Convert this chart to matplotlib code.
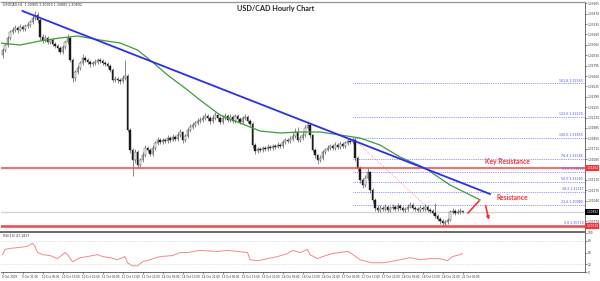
import matplotlib
matplotlib.use("Agg")
import matplotlib.pyplot as plt
import numpy as np

# ---- hourly USD/CAD bars (bar index 0 = 9 Oct 13:00) ----
first_open = 1.32933
closes = [
    1.32998, 1.33063, 1.33154, 1.33232, 1.33258, 1.33284, 1.33258, 1.33297, 1.33271, 1.33310,
    1.33323, 1.33362, 1.33414, 1.33453, 1.33388, 1.33167, 1.33128, 1.33154, 1.33102, 1.33128,
    1.33076, 1.33050, 1.33024, 1.32972, 1.33037, 1.33102, 1.33154, 1.32868, 1.32634, 1.32712,
    1.32764, 1.32829, 1.32894, 1.32868, 1.32842, 1.32816, 1.32829, 1.32842, 1.32868, 1.32855,
    1.32829, 1.32816, 1.32790, 1.32738, 1.32608, 1.32621, 1.32608, 1.32595, 1.32634, 1.32660,
    1.31958, 1.31698, 1.31568, 1.31672, 1.31503, 1.31568, 1.31633, 1.31724, 1.31698, 1.31646,
    1.31724, 1.31789, 1.31828, 1.31802, 1.31828, 1.31815, 1.31854, 1.31828, 1.31867, 1.31841,
    1.31893, 1.31932, 1.31828, 1.31880, 1.31958, 1.31997, 1.32023, 1.32049, 1.32075, 1.32088,
    1.32114, 1.32140, 1.32114, 1.32075, 1.32114, 1.32153, 1.32114, 1.32062, 1.32114, 1.32140,
    1.32088, 1.32127, 1.32075, 1.32140, 1.32101, 1.32062, 1.32114, 1.32127, 1.32075, 1.32036,
    1.31763, 1.31685, 1.31711, 1.31698, 1.31724, 1.31711, 1.31737, 1.31724, 1.31750, 1.31737,
    1.31763, 1.31750, 1.31802, 1.31828, 1.31815, 1.31841, 1.31880, 1.31932, 1.31828, 1.31854,
    1.31893, 1.31984, 1.32023, 1.31893, 1.31698, 1.31633, 1.31568, 1.31594, 1.31672, 1.31698,
    1.31724, 1.31750, 1.31724, 1.31763, 1.31737, 1.31776, 1.31750, 1.31789, 1.31815, 1.31802,
    1.31828, 1.31594, 1.31464, 1.31308, 1.31243, 1.31334, 1.31412, 1.31178, 1.31048, 1.30944,
    1.30918, 1.30944, 1.30931, 1.30957, 1.30918, 1.30944, 1.30957, 1.30931, 1.30970, 1.30944,
    1.30918, 1.30931, 1.30957, 1.30983, 1.30944, 1.30931, 1.30918, 1.30944, 1.30931, 1.30957,
    1.30918, 1.30905, 1.30879, 1.30840, 1.30801, 1.30775, 1.30749, 1.30762, 1.30788, 1.30892,
    1.30905, 1.30879, 1.30892, 1.30905, 1.30892,
]
highs = [
    1.33030, 1.33090, 1.33180, 1.33260, 1.33300, 1.33320, 1.33310, 1.33330, 1.33320, 1.33340,
    1.33360, 1.33390, 1.33460, 1.33510, 1.33490, 1.33410, 1.33200, 1.33190, 1.33180, 1.33160,
    1.33150, 1.33100, 1.33070, 1.33050, 1.33060, 1.33130, 1.33200, 1.33180, 1.32890, 1.32740,
    1.32800, 1.32860, 1.32940, 1.32920, 1.32900, 1.32870, 1.32860, 1.32880, 1.32900, 1.32890,
    1.32880, 1.32860, 1.32840, 1.32810, 1.32760, 1.32660, 1.32650, 1.32640, 1.32670, 1.32870,
    1.32680, 1.31980, 1.31720, 1.31710, 1.31700, 1.31600, 1.31670, 1.31760, 1.31750, 1.31730,
    1.31760, 1.31820, 1.31870, 1.31850, 1.31860, 1.31850, 1.31890, 1.31880, 1.31900, 1.31890,
    1.31930, 1.31970, 1.31950, 1.31910, 1.31990, 1.32030, 1.32060, 1.32080, 1.32110, 1.32130,
    1.32150, 1.32180, 1.32170, 1.32140, 1.32150, 1.32190, 1.32180, 1.32140, 1.32150, 1.32180,
    1.32160, 1.32160, 1.32150, 1.32170, 1.32160, 1.32130, 1.32140, 1.32160, 1.32150, 1.32100,
    1.32060, 1.31790, 1.31740, 1.31740, 1.31750, 1.31750, 1.31770, 1.31760, 1.31780, 1.31770,
    1.31800, 1.31790, 1.31830, 1.31860, 1.31850, 1.31880, 1.31920, 1.31980, 1.32000, 1.31890,
    1.31930, 1.32020, 1.32070, 1.32040, 1.31910, 1.31720, 1.31650, 1.31630, 1.31700, 1.31730,
    1.31760, 1.31780, 1.31770, 1.31800, 1.31790, 1.31810, 1.31800, 1.31820, 1.31850, 1.31850,
    1.31860, 1.31850, 1.31620, 1.31490, 1.31340, 1.31370, 1.31470, 1.31430, 1.31200, 1.31070,
    1.30980, 1.30980, 1.30970, 1.30990, 1.30980, 1.30970, 1.30990, 1.30980, 1.31010, 1.31000,
    1.30970, 1.30960, 1.30990, 1.31020, 1.31010, 1.30970, 1.30960, 1.30980, 1.30970, 1.30990,
    1.30980, 1.30950, 1.30930, 1.31010, 1.30870, 1.30830, 1.30800, 1.30790, 1.30820, 1.30920,
    1.30940, 1.30930, 1.30930, 1.30940, 1.30920,
]
lows = [
    1.32900, 1.32970, 1.33040, 1.33130, 1.33200, 1.33230, 1.33220, 1.33240, 1.33240, 1.33250,
    1.33290, 1.33300, 1.33340, 1.33390, 1.33350, 1.33130, 1.33090, 1.33100, 1.33070, 1.33080,
    1.33050, 1.33020, 1.32990, 1.32940, 1.32950, 1.33010, 1.33080, 1.32840, 1.32580, 1.32600,
    1.32680, 1.32740, 1.32800, 1.32840, 1.32810, 1.32780, 1.32790, 1.32800, 1.32820, 1.32830,
    1.32800, 1.32790, 1.32760, 1.32710, 1.32580, 1.32580, 1.32570, 1.32560, 1.32570, 1.32610,
    1.31930, 1.31660, 1.31360, 1.31530, 1.31470, 1.31480, 1.31540, 1.31610, 1.31670, 1.31620,
    1.31620, 1.31700, 1.31760, 1.31770, 1.31780, 1.31790, 1.31790, 1.31800, 1.31810, 1.31820,
    1.31820, 1.31870, 1.31790, 1.31800, 1.31860, 1.31930, 1.31970, 1.32000, 1.32020, 1.32050,
    1.32060, 1.32090, 1.32080, 1.32040, 1.32050, 1.32090, 1.32080, 1.32030, 1.32040, 1.32090,
    1.32060, 1.32060, 1.32050, 1.32050, 1.32070, 1.32030, 1.32040, 1.32090, 1.32050, 1.32010,
    1.31730, 1.31650, 1.31660, 1.31670, 1.31670, 1.31690, 1.31690, 1.31700, 1.31700, 1.31710,
    1.31720, 1.31730, 1.31730, 1.31780, 1.31790, 1.31790, 1.31820, 1.31860, 1.31800, 1.31800,
    1.31830, 1.31870, 1.31960, 1.31860, 1.31670, 1.31600, 1.31520, 1.31540, 1.31570, 1.31650,
    1.31680, 1.31700, 1.31700, 1.31700, 1.31710, 1.31710, 1.31720, 1.31730, 1.31760, 1.31780,
    1.31780, 1.31560, 1.31420, 1.31270, 1.31200, 1.31220, 1.31310, 1.31140, 1.31010, 1.30910,
    1.30890, 1.30890, 1.30900, 1.30900, 1.30890, 1.30890, 1.30920, 1.30900, 1.30910, 1.30920,
    1.30890, 1.30890, 1.30910, 1.30940, 1.30920, 1.30900, 1.30890, 1.30890, 1.30910, 1.30910,
    1.30890, 1.30880, 1.30850, 1.30810, 1.30770, 1.30740, 1.30710, 1.30710, 1.30740, 1.30770,
    1.30870, 1.30850, 1.30860, 1.30870, 1.30880,
]

# time-axis labels, one every 8 bars
time_labels = [
    "9 Oct 2019", "9 Oct 21:00", "10 Oct 05:00", "10 Oct 13:00", "10 Oct 21:00",
    "11 Oct 05:00", "11 Oct 13:00", "11 Oct 21:00", "14 Oct 05:00", "14 Oct 13:00",
    "14 Oct 21:00", "15 Oct 05:00", "15 Oct 13:00", "15 Oct 21:00", "16 Oct 05:00",
    "16 Oct 13:00", "16 Oct 21:00", "17 Oct 05:00", "17 Oct 13:00", "17 Oct 21:00",
    "18 Oct 05:00", "18 Oct 13:00", "18 Oct 21:00", "21 Oct 05:00",
]

# moving average (green) knots: bar index, price
ma_bars = [-1, 7, 15, 23, 30, 39, 47, 54, 59, 66, 74, 79, 87, 95, 103, 111, 119, 127,
           135, 143, 151, 159, 169, 179, 191]
ma_vals = [1.33089, 1.33063, 1.33115, 1.33154, 1.33180, 1.33128, 1.33089, 1.32998,
           1.32868, 1.32673, 1.32478, 1.32348, 1.32153, 1.32049, 1.31945, 1.31919,
           1.31932, 1.31932, 1.31893, 1.31854, 1.31763, 1.31607, 1.31464, 1.31243, 1.31050]

# bearish trend line (blue)
trend_bars = [8, 195]
trend_vals = [1.33505, 1.31126]

# Fibonacci retracement from the 17 Oct swing high to the 21 Oct low
fib_high, fib_low = 1.31855, 1.30710
fib_start_bar, fib_end_bar = 140, 178
fib_ratios = [0.0, 23.6, 38.2, 50.0, 61.8, 76.4, 100.0, 123.6, 161.8]

key_resistance = 1.31464
support_level = 1.30710

# RSI(14) line: bar index, value
rsi_bars = [0, 1, 3, 7, 10, 12, 13, 14, 16, 19, 22, 25, 26, 28, 31, 34, 38, 40, 43, 46,
            48, 49, 50, 52, 54, 56, 59, 63, 68, 71, 74, 79, 86, 90, 94, 98, 99, 102, 106,
            110, 114, 116, 119, 122, 123, 126, 128, 132, 138, 139, 143, 146, 148, 152, 155,
            159, 163, 167, 171, 175, 178, 180, 183, 184]
rsi_vals = [44.7, 57.9, 60.5, 63.2, 65.8, 73.7, 65.8, 50.0, 44.7, 42.1, 34.2, 50.0, 44.7,
            26.3, 36.8, 39.5, 44.7, 39.5, 36.8, 31.6, 36.8, 39.5, 23.7, 15.8, 15.8, 26.3,
            31.6, 39.5, 42.1, 50.0, 50.0, 55.3, 52.6, 55.3, 52.6, 50.0, 31.6, 28.9, 34.2,
            39.5, 47.4, 55.3, 50.0, 57.9, 44.7, 34.2, 39.5, 47.4, 52.6, 50.0, 31.6, 26.3,
            23.7, 23.7, 26.3, 31.6, 36.8, 31.6, 34.2, 34.2, 28.9, 39.5, 44.7, 47.4]
rsi_levels = [20, 80]
rsi_ticks = [0, 20, 50, 80, 100]

# price-scale ticks
price_ticks = [1.33605 - 0.00135 * k for k in range(22)]

# ---------------------------------------------------------------
W, H = 600, 281
fig = plt.figure(figsize=(W / 100, H / 100), dpi=100)
fig.patch.set_facecolor("white")

def frame(x0, y0, x1, y1):
    return [x0 / W, 1 - y1 / H, (x1 - x0) / W, (y1 - y0) / H]

ax = fig.add_axes(frame(1, 2, 585, 231))
rx = fig.add_axes(frame(1, 233, 585, 272))

xl = (-0.6, 233.0)
yl = (1.30645, 1.33622)

opens = [first_open] + closes[:-1]
idx = np.arange(len(closes))
o = np.array(opens); c = np.array(closes)
hi = np.array(highs); lo = np.array(lows)

# current bid line
ax.axhline(closes[-1], color="#d4d4d4", lw=1.0, zorder=0)

# wicks and bodies
ax.vlines(idx, lo, hi, color="#333333", lw=0.4, zorder=2)
bull = c >= o
body_lo = np.minimum(o, c)
body_h = np.maximum(np.abs(c - o), 0.00004)
ax.bar(idx[bull], body_h[bull], bottom=body_lo[bull], width=0.55,
       color="white", edgecolor="#333333", linewidth=0.3, zorder=3)
ax.bar(idx[~bull], body_h[~bull], bottom=body_lo[~bull], width=0.55,
       color="#1a1a1a", edgecolor="#1a1a1a", linewidth=0.3, zorder=3)

# horizontal red levels
ax.axhline(key_resistance, color="#ff4040", lw=1.1, zorder=4)
ax.axhline(support_level, color="#ff4040", lw=1.8, zorder=4)

# Fibonacci levels
rng = fib_high - fib_low
for r in fib_ratios:
    lv = fib_low + rng * r / 100.0
    ax.plot([fib_start_bar, xl[1]], [lv, lv], color="#7070ff", lw=0.6,
            ls=(0, (1, 1.2)), zorder=1)
    ax.text(232.3, lv + 0.00012, f"{r:.1f} {lv:.5f}", fontsize=2.3,
            color="#5050ff", ha="right", va="bottom", zorder=5)
ax.plot([fib_start_bar, fib_end_bar], [fib_high, fib_low], color="#ff8080",
        lw=0.6, ls=(0, (1, 1.5)), zorder=1)

# moving average and trend line
ax.plot(ma_bars, ma_vals, color="#3c9c3c", lw=0.9, zorder=5)
ax.plot(trend_bars, trend_vals, color="#2b2bff", lw=1.3, zorder=6)

# annotations
ax.text(202, 1.31545, "Key Resistance", color="#ff3030", fontsize=4.8,
        fontweight="bold", ha="center", va="center", family="Lato", zorder=7)
ax.text(204, 1.31087, "Resistance", color="#ff3030", fontsize=4.8,
        fontweight="bold", ha="center", va="center", family="Lato", zorder=7)
ax.plot([186.2, 190.6], [1.30879, 1.31035], color="#ff3030", lw=1.2, zorder=7)
ax.annotate("", xy=(194.8, 1.30755), xytext=(193.0, 1.31009),
            arrowprops=dict(arrowstyle="-|>", color="#ff3030", lw=1.2,
                            mutation_scale=4), zorder=7)

ax.set_xlim(*xl)
ax.set_ylim(*yl)
ax.yaxis.tick_right()
ax.set_yticks(price_ticks)
ax.set_yticklabels([f"{v:.5f}" for v in price_ticks])
ax.tick_params(axis="y", labelsize=2.1, length=1.2, width=0.4, pad=0.5,
               colors="#333333")
ax.set_xticks([])
for s in ["left", "bottom"]:
    ax.spines[s].set_visible(False)
ax.spines["top"].set_color("#9a9a9a")
ax.spines["top"].set_linewidth(1.0)
ax.spines["right"].set_color("#555555")
ax.spines["right"].set_linewidth(0.6)

# price tags on the scale
def tag(val, face, fg="white"):
    ax.text(1.002, (val - yl[0]) / (yl[1] - yl[0]), f"{val:.5f}",
            transform=ax.transAxes, fontsize=2.1, color=fg, ha="left",
            va="center", zorder=8,
            bbox=dict(boxstyle="square,pad=0.3", fc=face, ec="none"))

tag(key_resistance, "#ff3030")
tag(support_level, "#ff3030")
tag(closes[-1], "#000000")

ax.text(0.003, 0.995, "USDCAD,H1  1.30905 1.30910 1.30885 1.30892",
        transform=ax.transAxes, fontsize=2.3, color="#333333", ha="left", va="top")
fig.text(276 / W, 1 - 8 / H, "USD/CAD Hourly Chart", fontsize=5.2,
         fontweight="bold", ha="center", va="center", family="Lato", color="#222222")

# separator between panels
fig.add_artist(plt.Line2D([1 / W, 585 / W], [1 - 231.8 / H, 1 - 231.8 / H],
                          color="#6a6a6a", lw=1.4))

# RSI panel
rx.plot(rsi_bars, rsi_vals, color="#f08a8a", lw=0.7)
for lvl in rsi_levels:
    rx.axhline(lvl, color="#c8c8c8", lw=0.5, ls=(0, (1, 1.5)))
rx.set_xlim(*xl)
rx.set_ylim(0, 100)
rx.yaxis.tick_right()
rx.set_yticks(rsi_ticks)
rx.set_yticklabels([str(v) for v in rsi_ticks])
rx.tick_params(axis="y", labelsize=2.1, length=1.2, width=0.4, pad=0.5,
               colors="#333333")
tick_bars = [8 * k for k in range(len(time_labels))]
rx.set_xticks(tick_bars)
rx.set_xticklabels(time_labels, ha="left")
rx.tick_params(axis="x", labelsize=2.0, length=1.2, width=0.4, pad=0.8,
               colors="#333333")
for s in ["left", "top"]:
    rx.spines[s].set_visible(False)
rx.spines["bottom"].set_color("#555555")
rx.spines["bottom"].set_linewidth(0.6)
rx.spines["right"].set_color("#555555")
rx.spines["right"].set_linewidth(0.6)
rx.text(0.003, 0.98, "RSI(14) 47.1827", transform=rx.transAxes, fontsize=2.3,
        color="#333333", ha="left", va="top")

fig.savefig("out.png", dpi=100, facecolor="white")
